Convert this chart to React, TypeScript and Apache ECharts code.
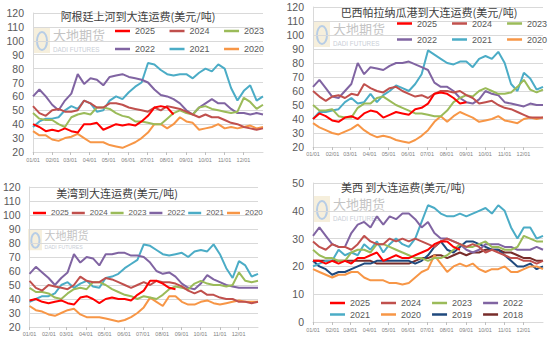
import React, { useEffect, useRef } from "react";
import * as echarts from "echarts";

// ---------- x axis (day of year) ----------
const MONTH_DAYS = [0, 31, 59, 90, 120, 151, 181, 212, 243, 273, 304, 334];
const MONTH_LABELS = ["01/01", "02/01", "03/01", "04/01", "05/01", "06/01", "07/01", "08/01", "09/01", "10/01", "11/01", "12/01"];
const STEP = 365 / 36; // samples every ~10 days

// ---------- Panel 1: 阿根廷上河 ----------
const arg2025 = [40, 38, 35, 36, 35, 37, 35, 34, 40, 40, 41, 36, 38, 40, 39, 40, 39, 42, 46, 52, 53, 52, 47];
const arg2024 = [53, 48, 46, 50, 51, 49, 49, 50, 57, 55, 52, 52, 55, 55, 54, 52, 51, 50, 49, 52, 50, 53, 52, 51, 49, 47, 45, 47, 45, 45, 43, 41, 40, 38, 37, 36, 37];
const arg2023 = [48, 44, 43, 43, 40, 38, 45, 47, 48, 47, 52, 52, 51, 48, 46, 45, 42, 42, 41, 40, 40, 44, 48, 50, 48, 47, 52, 53, 51, 50, 49, 48, 49, 59, 56, 51, 54];
const arg2022 = [60, 65, 60, 54, 50, 57, 62, 76, 69, 73, 72, 68, 74, 75, 76, 74, 73, 72, 70, 65, 61, 60, 58, 55, 50, 47, 52, 55, 58, 55, 55, 51, 48, 48, 47, 48, 47];
const arg2021 = [38, 42, 44, 44, 45, 50, 53, 51, 57, 55, 49, 50, 57, 60, 58, 63, 67, 70, 84, 83, 79, 76, 75, 76, 76, 73, 77, 80, 78, 83, 80, 66, 57, 64, 68, 57, 60];
const arg2020 = [35, 32, 32, 29, 28, 30, 31, 33, 30, 27, 27, 27, 25, 24, 23, 25, 27, 30, 34, 40, 40, 37, 40, 45, 42, 41, 36, 37, 38, 40, 37, 38, 37, 38, 39, 37, 38];

// ---------- Panel 2: 巴西帕拉纳瓜港 ----------
const bra2025 = [40, 44, 42, 39, 38, 41, 42, 40, 44, 46, 45, 41, 43, 45, 44, 43, 47, 48, 51, 58, 59, 58, 55, 51, 52];
const bra2024 = [60, 56, 53, 56, 57, 55, 58, 57, 65, 62, 60, 59, 62, 63, 60, 58, 56, 57, 55, 58, 60, 60, 59, 60, 57, 55, 51, 52, 53, 50, 48, 47, 45, 43, 41, 41, 41];
const bra2023 = [50, 46, 46, 47, 42, 41, 41, 48, 51, 51, 55, 56, 53, 50, 48, 46, 44, 44, 43, 42, 42, 46, 52, 55, 57, 56, 60, 62, 60, 58, 58, 59, 63, 68, 61, 59, 61];
const bra2022 = [63, 68, 62, 56, 55, 60, 65, 80, 72, 77, 76, 75, 78, 80, 80, 81, 79, 77, 75, 66, 63, 63, 60, 55, 52, 51, 54, 60, 58, 57, 52, 51, 50, 49, 51, 50, 50];
const bra2021 = [40, 45, 45, 46, 47, 52, 55, 51, 52, 58, 52, 57, 60, 64, 62, 60, 65, 72, 89, 86, 83, 80, 79, 81, 81, 77, 83, 85, 83, 88, 80, 65, 60, 73, 69, 61, 63];
const bra2020 = [37, 34, 32, 30, 29, 31, 33, 36, 32, 29, 27, 28, 27, 25, 24, 23, 25, 28, 32, 38, 42, 38, 42, 45, 43, 41, 38, 39, 40, 42, 39, 38, 37, 40, 41, 40, 41];

// ---------- Panel 3: 美湾 ----------
const gulf2025 = [39, 40, 38, 37, 38, 39, 37, 36, 41, 42, 40, 37, 40, 41, 40, 40, 39, 43, 46, 53, 53, 51, 48, 47];
const gulf2024 = [53, 48, 46, 50, 49, 48, 47, 50, 56, 53, 52, 52, 55, 54, 52, 50, 48, 50, 52, 50, 53, 52, 52, 51, 49, 46, 44, 46, 43, 43, 41, 40, 40, 38, 38, 37, 38];
const gulf2023 = [48, 45, 45, 44, 41, 40, 44, 47, 48, 47, 52, 52, 50, 47, 45, 43, 42, 40, 42, 41, 40, 43, 47, 49, 48, 47, 51, 53, 51, 50, 50, 49, 50, 59, 53, 52, 53];
const gulf2022 = [58, 63, 59, 55, 50, 55, 59, 72, 66, 70, 69, 64, 72, 72, 73, 73, 71, 71, 70, 66, 60, 58, 59, 56, 51, 48, 47, 51, 57, 54, 52, 50, 49, 48, 48, 48, 48];
const gulf2021 = [38, 40, 42, 42, 44, 50, 52, 48, 51, 53, 49, 48, 55, 56, 58, 62, 65, 68, 79, 78, 75, 72, 71, 72, 73, 70, 74, 75, 74, 79, 72, 62, 55, 67, 64, 56, 58];
const gulf2020 = [35, 32, 31, 29, 28, 30, 32, 33, 29, 27, 27, 27, 26, 25, 24, 25, 27, 30, 34, 41, 38, 35, 42, 42, 38, 36, 36, 38, 39, 37, 36, 37, 38, 39, 38, 38, 38];

// ---------- Panel 4: 美西 ----------
const west2025 = [22, 22, 21, 22, 21, 22, 21, 23, 23, 24, 25, 22, 23, 24, 23, 23, 24, 25, 26, 28, 29, 29, 27, 26];
const west2024 = [29, 27, 26, 28, 27, 27, 26, 28, 31, 29, 28, 28, 30, 29, 30, 29, 30, 29, 28, 27, 29, 30, 29, 28, 27, 28, 27, 25, 26, 25, 24, 23, 23, 22, 22, 21, 22];
const west2023 = [26, 24, 23, 23, 22, 22, 25, 26, 26, 25, 28, 28, 27, 26, 25, 24, 23, 23, 22, 23, 23, 24, 26, 28, 27, 27, 28, 29, 27, 27, 26, 26, 27, 31, 30, 29, 29];
const west2022 = [31, 34, 31, 28, 27, 27, 32, 35, 36, 34, 38, 35, 38, 37, 39, 39, 37, 34, 36, 32, 30, 30, 29, 28, 26, 25, 26, 28, 28, 28, 27, 27, 26, 26, 26, 27, 26];
const west2021 = [20, 21, 22, 22, 26, 24, 25, 24, 28, 26, 29, 25, 28, 30, 28, 27, 30, 36, 42, 41, 39, 38, 38, 39, 38, 39, 40, 41, 39, 42, 40, 34, 30, 34, 34, 30, 31];
const west2020 = [19, 18, 17, 16, 17, 17, 18, 18, 16, 15, 15, 15, 14, 14, 13.5, 14, 16, 18, 19, 24, 21, 18, 20, 21, 20, 21, 19, 18, 19, 19, 20, 18, 18, 19, 20, 20, 19];
const west2019 = [22, 20, 19, 17, 18, 18, 19, 20, 21, 21, 22, 22, 22, 22, 22, 22, 21, 22, 24, 27, 29, 26, 25, 27, 29, 29, 28, 27, 26, 26, 24, 22, 20, 20, 21, 19, 20];
const west2018 = [22, 22, 22, 22, 22, 22, 22, 22, 22, 22, 21, 21, 21, 21, 21, 21, 22, 23, 23, 24, 24, 23, 24, 25, 24, 25, 25, 26, 26, 26, 25, 25, 24, 23, 23, 22, 22];

const COLORS: Record<string, string> = {
  "2025": "#FF0000",
  "2024": "#C0504D",
  "2023": "#9BBB59",
  "2022": "#8064A2",
  "2021": "#4BACC6",
  "2020": "#F79646",
  "2019": "#1F497D",
  "2018": "#772C2A",
};

const FONT = "'Liberation Sans', Arial, 'Noto Sans CJK SC', sans-serif";
const CJK = "'Noto Sans CJK SC', 'Liberation Sans', sans-serif";

const PANELS = [
  {
    title: "阿根廷上河到大连运费(美元/吨)",
    grid: { left: 33, top: 13, width: 230, height: 139 },
    y: [20, 120, 10],
    labelMargin: 5,
    series: { "2025": arg2025, "2024": arg2024, "2023": arg2023, "2022": arg2022, "2021": arg2021, "2020": arg2020 },
  },
  {
    title: "巴西帕拉纳瓜港到大连运费(美元/吨)",
    grid: { left: 313, top: 7, width: 230, height: 140 },
    y: [20, 120, 10],
    labelMargin: 4,
    series: { "2025": bra2025, "2024": bra2024, "2023": bra2023, "2022": bra2022, "2021": bra2021, "2020": bra2020 },
  },
  {
    title: "美湾到大连运费(美元/吨)",
    grid: { left: 28, top: 187, width: 230, height: 140 },
    y: [20, 120, 10],
    labelMargin: 4,
    series: { "2025": gulf2025, "2024": gulf2024, "2023": gulf2023, "2022": gulf2022, "2021": gulf2021, "2020": gulf2020 },
  },
  {
    title: "美西 到大连运费(美元/吨)",
    grid: { left: 313, top: 183, width: 230, height: 139 },
    y: [0, 50, 10],
    labelMargin: 5,
    series: {
      "2025": west2025, "2024": west2024, "2023": west2023, "2022": west2022,
      "2021": west2021, "2020": west2020, "2019": west2019, "2018": west2018,
    },
  },
];

const TITLE_POS = [
  [138, 16],
  [429, 12],
  [117, 193],
  [403, 187],
];

const WATERMARKS = [
  { x: 33, y: 27, s: 1 },
  { x: 313, y: 21, s: 1 },
  { x: 28, y: 229, s: 0.82 },
  { x: 313, y: 196, s: 1 },
];

function legend(names: string[], left: number, top: number, fontSize: number, itemGap: number, itemWidth = 15, itemTextGap = 4) {
  return {
    data: names,
    left,
    top,
    orient: "horizontal",
    icon: "rect",
    itemWidth,
    itemHeight: 2.5,
    itemGap,
    itemTextGap,
    padding: 0,
    selectedMode: false,
    textStyle: { fontSize, color: "#595959", fontFamily: FONT },
  };
}

function watermark(x: number, y: number, s: number) {
  return [
    { type: "rect", shape: { x, y, width: 17 * s, height: 26 * s }, style: { fill: "#F4EBD3", opacity: 0.8 }, z: 0 },
    { type: "ellipse", shape: { cx: x + 9 * s, cy: y + 14 * s, rx: 5 * s, ry: 9 * s }, style: { fill: "none", stroke: "#B7CDE6", lineWidth: 2 }, z: 0 },
    {
      type: "text", x: x + 20 * s, y: y + 1 * s, z: 0,
      style: { text: "大地期货", fill: "#C4C4C4", font: `${Math.round(13 * s)}px ${CJK}`, textVerticalAlign: "top" },
    },
    {
      type: "text", x: x + 20 * s, y: y + 19 * s, z: 0,
      style: { text: "DADI FUTURES", fill: "#C9CED6", font: `${(6.3 * s).toFixed(1)}px ${FONT}`, textVerticalAlign: "top" },
    },
  ];
}

export default function App() {
  const ref = useRef<HTMLDivElement>(null);

  useEffect(() => {
    if (!ref.current) return;
    const chart = echarts.init(ref.current, null, { renderer: "svg" });

    const grid: any[] = [];
    const xAxis: any[] = [];
    const yAxis: any[] = [];
    const series: any[] = [];

    PANELS.forEach((p, gi) => {
      grid.push({ ...p.grid, containLabel: false });
      xAxis.push({
        gridIndex: gi,
        type: "value",
        min: 0,
        max: 365,
        splitLine: { show: false },
        axisLine: { show: true, lineStyle: { color: "#D9D9D9", width: 1 } },
        axisTick: { show: true, customValues: MONTH_DAYS, length: 3, lineStyle: { color: "#BFBFBF" } },
        axisLabel: {
          customValues: MONTH_DAYS,
          formatter: (v: number) => {
            const idx = MONTH_DAYS.indexOf(Math.round(v));
            return idx >= 0 ? MONTH_LABELS[idx] : "";
          },
          fontSize: 5.5,
          color: "#7F7F7F",
          margin: p.labelMargin,
          fontFamily: FONT,
          hideOverlap: false,
        },
      });
      yAxis.push({
        gridIndex: gi,
        type: "value",
        min: p.y[0],
        max: p.y[1],
        interval: p.y[2],
        axisLine: { show: true, lineStyle: { color: "#D9D9D9" } },
        axisTick: { show: false },
        splitLine: { show: true, lineStyle: { color: "#D9D9D9", width: 1 } },
        axisLabel: { fontSize: 10.5, color: "#595959", margin: 9, fontFamily: FONT },
      });
      Object.entries(p.series).forEach(([name, vals]) => {
        series.push({
          name,
          type: "line",
          xAxisIndex: gi,
          yAxisIndex: gi,
          symbol: "none",
          showSymbol: false,
          color: COLORS[name],
          lineStyle: { width: 2, color: COLORS[name] },
          data: (vals as number[]).map((v, i) => [Math.min(365, i * STEP), v]),
          z: 3,
        });
      });
    });

    const legends = [
      legend(["2025", "2024", "2023"], 115, 26.5, 9, 14.5),
      legend(["2022", "2021", "2020"], 115, 44.5, 9, 14.5),
      legend(["2025", "2024", "2023"], 397, 19, 9, 15),
      legend(["2022", "2021", "2020"], 397, 35, 9, 15),
      legend(["2025", "2024", "2023", "2022", "2021", "2020"], 33, 209, 8, 3, 13, 3),
      legend(["2025", "2024", "2023", "2022"], 330, 298.5, 9, 11),
      legend(["2021", "2020", "2019", "2018"], 330, 310, 9, 11),
    ];

    const graphics: any[] = [];
    WATERMARKS.forEach((w) => graphics.push(...watermark(w.x, w.y, w.s)));
    PANELS.forEach((p, i) => {
      graphics.push({
        type: "text",
        x: TITLE_POS[i][0],
        y: TITLE_POS[i][1],
        z: 5,
        style: {
          text: p.title,
          fill: "#404040",
          font: `11px ${CJK}`,
          textAlign: "center",
          textVerticalAlign: "middle",
        },
      });
    });

    chart.setOption({
      animation: false,
      backgroundColor: "#ffffff",
      grid,
      xAxis,
      yAxis,
      legend: legends,
      graphic: graphics,
      series,
    });

    return () => chart.dispose();
  }, []);

  return (
    <div
      ref={ref}
      style={{ position: "fixed", left: 0, top: 0, width: 550, height: 343, background: "#fff" }}
    />
  );
}
